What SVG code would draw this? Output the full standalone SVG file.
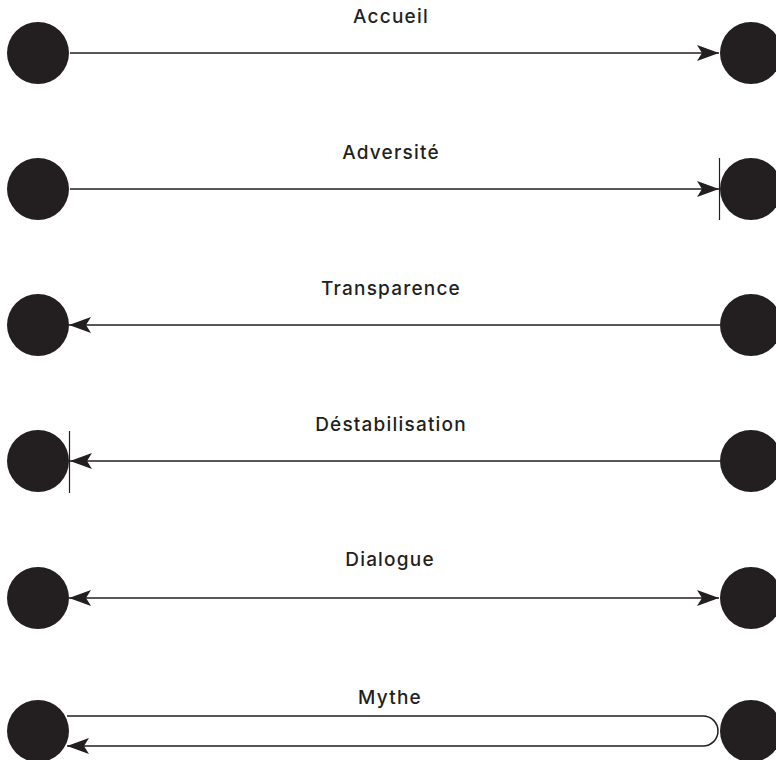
<svg xmlns="http://www.w3.org/2000/svg" width="776" height="760" viewBox="0 0 776 760">
<style>
.node{fill:#231f20}
.lbl{font-family:Inter,"Liberation Sans",sans-serif;font-size:19px;font-weight:500;letter-spacing:1.2px;fill:#231f20;text-anchor:middle}
.ln{stroke:#231f20;stroke-width:1.5;fill:none}
.bar{stroke:#231f20;stroke-width:1.2}
</style>
<defs>
<marker id="ah" viewBox="0 0 22 16" refX="22" refY="8" markerWidth="22" markerHeight="16" markerUnits="userSpaceOnUse" orient="auto-start-reverse">
<path d="M0,0 L22,8 L0,16 L5,8 Z" fill="#231f20"/>
</marker>
</defs>
<rect width="776" height="760" fill="#fff"/>
<g id="connectors">
<line class="ln" x1="70" y1="53" x2="719" y2="53" marker-end="url(#ah)"/>
<line class="ln" x1="70" y1="189" x2="719" y2="189" marker-end="url(#ah)"/>
<line class="bar" x1="719.5" y1="158" x2="719.5" y2="220"/>
<line class="ln" x1="720" y1="325" x2="69" y2="325" marker-end="url(#ah)"/>
<line class="ln" x1="720" y1="461" x2="70" y2="461" marker-end="url(#ah)"/>
<line class="bar" x1="69.5" y1="431" x2="69.5" y2="493"/>
<line class="ln" x1="69" y1="598" x2="719" y2="598" marker-start="url(#ah)" marker-end="url(#ah)"/>
<path class="ln" d="M67,716 H703 A15,15 0 0 1 703,746 H67" marker-end="url(#ah)"/>
</g>
<g id="accueil-left"><circle class="node" cx="38" cy="53" r="31"/></g>
<g id="accueil-right"><circle class="node" cx="751" cy="53" r="31"/></g>
<g id="accueil-label"><text class="lbl" x="391" y="23">Accueil</text></g>
<g id="adversite-left"><circle class="node" cx="38" cy="189" r="31"/></g>
<g id="adversite-right"><circle class="node" cx="751" cy="189" r="31"/></g>
<g id="adversite-label"><text class="lbl" x="391" y="159">Adversité</text></g>
<g id="transparence-left"><circle class="node" cx="38" cy="325" r="31"/></g>
<g id="transparence-right"><circle class="node" cx="751" cy="325" r="31"/></g>
<g id="transparence-label"><text class="lbl" x="391" y="295">Transparence</text></g>
<g id="destab-left"><circle class="node" cx="38" cy="461" r="31"/></g>
<g id="destab-right"><circle class="node" cx="751" cy="461" r="31"/></g>
<g id="destab-label"><text class="lbl" x="391" y="431">Déstabilisation</text></g>
<g id="dialogue-left"><circle class="node" cx="38" cy="598" r="31"/></g>
<g id="dialogue-right"><circle class="node" cx="751" cy="598" r="31"/></g>
<g id="dialogue-label"><text class="lbl" x="390" y="566">Dialogue</text></g>
<g id="mythe-left"><circle class="node" cx="38" cy="731" r="31"/></g>
<g id="mythe-right"><circle class="node" cx="751" cy="731" r="31"/></g>
<g id="mythe-label"><text class="lbl" x="390" y="704">Mythe</text></g>
</svg>
